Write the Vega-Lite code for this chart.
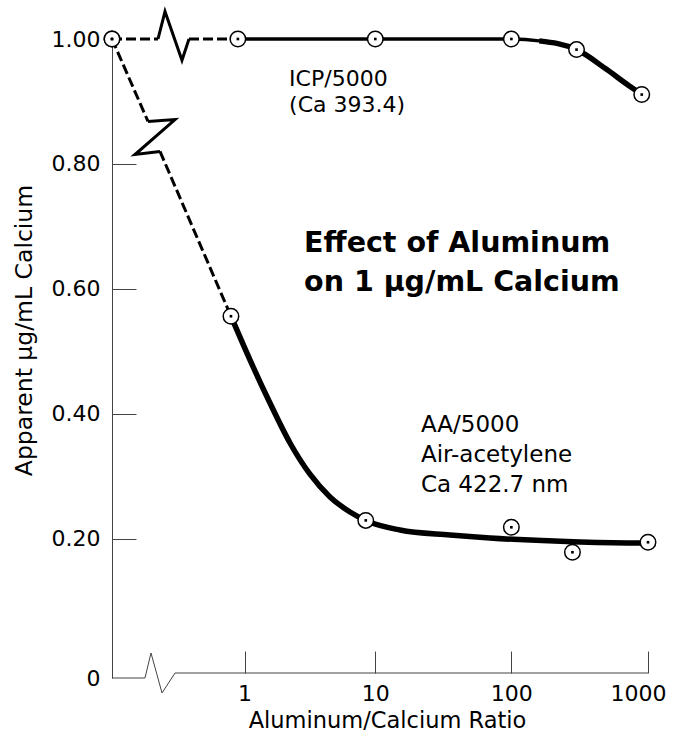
{
  "$schema": "https://vega.github.io/schema/vega-lite/v6.json",
  "width": 536,
  "height": 639,
  "autosize": {"type": "none"},
  "padding": {"left": 112, "top": 39, "right": 25, "bottom": 61},
  "background": "white",
  "config": {"view": {"stroke": null}, "font": "DejaVu Sans", "axis": {"grid": false}},
  "datasets": {
    "points": [
      {"series": "ICP", "ratio": 0, "value": 1.0},
      {"series": "ICP", "ratio": 0.88, "value": 1.0},
      {"series": "ICP", "ratio": 10, "value": 1.0},
      {"series": "ICP", "ratio": 100, "value": 1.0},
      {"series": "ICP", "ratio": 300, "value": 0.983},
      {"series": "ICP", "ratio": 900, "value": 0.911},
      {"series": "AA", "ratio": 0, "value": 1.0},
      {"series": "AA", "ratio": 0.77, "value": 0.556},
      {"series": "AA", "ratio": 8.5, "value": 0.229},
      {"series": "AA", "ratio": 100, "value": 0.218},
      {"series": "AA", "ratio": 280, "value": 0.178},
      {"series": "AA", "ratio": 1000, "value": 0.194}
    ],
    "fits": [
      {"series": "ICP", "ratio": 0.88, "value": 1.0},
      {"series": "ICP", "ratio": 10, "value": 1.0},
      {"series": "ICP", "ratio": 100, "value": 1.0},
      {"series": "ICP", "ratio": 160, "value": 0.997},
      {"series": "ICP", "ratio": 300, "value": 0.983},
      {"series": "ICP", "ratio": 500, "value": 0.951},
      {"series": "ICP", "ratio": 740, "value": 0.924},
      {"series": "ICP", "ratio": 900, "value": 0.912},
      {"series": "AA", "ratio": 0.77, "value": 0.556},
      {"series": "AA", "ratio": 1.106, "value": 0.486},
      {"series": "AA", "ratio": 1.597, "value": 0.417},
      {"series": "AA", "ratio": 2.286, "value": 0.353},
      {"series": "AA", "ratio": 3.248, "value": 0.303},
      {"series": "AA", "ratio": 4.6, "value": 0.2665},
      {"series": "AA", "ratio": 6.49, "value": 0.2425},
      {"series": "AA", "ratio": 8.68, "value": 0.228},
      {"series": "AA", "ratio": 15.2, "value": 0.2137},
      {"series": "AA", "ratio": 35.5, "value": 0.2057},
      {"series": "AA", "ratio": 69.7, "value": 0.2008},
      {"series": "AA", "ratio": 318, "value": 0.1944},
      {"series": "AA", "ratio": 874, "value": 0.1928},
      {"series": "AA", "ratio": 1000, "value": 0.193}
    ],
    "leads": [
      {"seg": "ICP-a", "ratio": 0, "value": 1.0},
      {"seg": "ICP-a", "ratio": 0.1404, "value": 1.0},
      {"seg": "ICP-b", "ratio": 0.319, "value": 1.0},
      {"seg": "ICP-b", "ratio": 0.88, "value": 1.0},
      {"seg": "AA-a", "ratio": 0, "value": 1.0},
      {"seg": "AA-a", "ratio": 0.1, "value": 0.868},
      {"seg": "AA-b", "ratio": 0.1493, "value": 0.82},
      {"seg": "AA-b", "ratio": 0.77, "value": 0.556}
    ],
    "breaks": [
      {"seg": "ICP", "k": 1, "ratio": 0.1404, "value": 1.0},
      {"seg": "ICP", "k": 2, "ratio": 0.173, "value": 1.044},
      {"seg": "ICP", "k": 3, "ratio": 0.27, "value": 0.966},
      {"seg": "ICP", "k": 4, "ratio": 0.319, "value": 1.0},
      {"seg": "AA", "k": 1, "ratio": 0.1, "value": 0.868},
      {"seg": "AA", "k": 2, "ratio": 0.2268, "value": 0.871},
      {"seg": "AA", "k": 3, "ratio": 0.0568, "value": 0.815},
      {"seg": "AA", "k": 4, "ratio": 0.1493, "value": 0.82}
    ],
    "xaxisline": [
      {"k": 1, "ratio": 0, "value": -0.0234},
      {"k": 2, "ratio": 0.0892, "value": -0.0234},
      {"k": 3, "ratio": 0.1115, "value": 0.0167},
      {"k": 4, "ratio": 0.1586, "value": -0.0474},
      {"k": 5, "ratio": 0.2268, "value": -0.0154},
      {"k": 6, "ratio": 1000, "value": -0.0154}
    ]
  },
  "layer": [
    {
      "encoding": {
        "x": {
          "field": "ratio",
          "type": "quantitative",
          "scale": {"type": "symlog", "constant": 0.12, "domain": [0, 1000], "nice": false, "zero": false},
          "axis": {
            "values": [1, 10, 100, 1000],
            "format": "d",
            "offset": -5,
            "domain": false,
            "tickSize": -22,
            "tickColor": "#444",
            "labelPadding": 32,
            "labelFontSize": 22,
            "labelColor": "black",
            "labelFlush": false,
            "labelOverlap": false,
            "labelOffset": {"condition": {"test": "datum.value > 500", "value": -10}, "value": 0},
            "title": "Aluminum/Calcium Ratio",
            "titleFontSize": 22.5,
            "titleFontWeight": "normal",
            "titleColor": "black",
            "titleBaseline": "alphabetic",
            "titleAlign": "center",
            "titleX": 275,
            "titleY": 54
          }
        },
        "y": {
          "field": "value",
          "type": "quantitative",
          "scale": {"domain": [-0.0234, 1], "nice": false, "zero": false},
          "axis": {
            "values": [-0.0234, 0.2, 0.4, 0.6, 0.8, 1.0],
            "labelExpr": "datum.value < 0 ? '0' : format(datum.value, '.2f')",
            "tickSize": -24,
            "labelPadding": 36,
            "tickColor": "#444",
            "tickOpacity": {"condition": {"test": "datum.value < 0.1 || datum.value > 0.9", "value": 0}, "value": 1},
            "domainColor": "#444",
            "labelFontSize": 22,
            "labelColor": "black",
            "labelOverlap": false,
            "labelFlush": false,
            "title": "Apparent µg/mL Calcium",
            "titleFontSize": 23.5,
            "titleFontWeight": "normal",
            "titleColor": "black",
            "titleAngle": -90,
            "titleAlign": "center",
            "titleBaseline": "middle",
            "titleX": -88,
            "titleY": 291
          }
        }
      },
      "layer": [
        {
          "data": {"name": "xaxisline"},
          "mark": {"type": "line", "color": "#444", "strokeWidth": 1},
          "encoding": {"order": {"field": "k", "type": "quantitative"}}
        },
        {
          "data": {"name": "leads"},
          "mark": {"type": "line", "color": "black", "strokeWidth": 3, "strokeDash": [10, 4]},
          "encoding": {"detail": {"field": "seg"}}
        },
        {
          "data": {"name": "breaks"},
          "mark": {"type": "line", "color": "black", "strokeWidth": 3, "strokeJoin": "miter"},
          "encoding": {"detail": {"field": "seg"}, "order": {"field": "k", "type": "quantitative"}}
        },
        {
          "data": {"name": "fits"},
          "transform": [{"filter": "datum.series == 'ICP'"}],
          "mark": {"type": "line", "color": "black", "strokeWidth": 3.5, "interpolate": "monotone"}
        },
        {
          "data": {"name": "fits"},
          "transform": [{"filter": "datum.series == 'ICP' && datum.ratio >= 160"}],
          "mark": {"type": "line", "color": "black", "strokeWidth": 5.5, "interpolate": "monotone"}
        },
        {
          "data": {"name": "fits"},
          "transform": [{"filter": "datum.series == 'AA'"}],
          "mark": {"type": "line", "color": "black", "strokeWidth": 5.5, "interpolate": "monotone"}
        },
        {
          "data": {"name": "points"},
          "mark": {"type": "point", "shape": "circle", "size": 240, "fill": "white", "stroke": "black", "strokeWidth": 1.5, "opacity": 1, "filled": false}
        },
        {
          "data": {"name": "points"},
          "mark": {"type": "point", "shape": "square", "size": 7, "filled": true, "color": "black", "opacity": 1}
        }
      ]
    },
    {
      "data": {"values": [{"label": "ICP"}]},
      "mark": {"type": "text", "align": "left", "baseline": "alphabetic", "fontSize": 22, "lineHeight": 26, "color": "black", "text": ["ICP/5000", "(Ca 393.4)"]},
      "encoding": {
        "x": {"datum": 2.25, "type": "quantitative"},
        "y": {"datum": 0.9247, "type": "quantitative"}
      }
    },
    {
      "data": {"values": [{"label": "title"}]},
      "mark": {"type": "text", "align": "left", "baseline": "alphabetic", "fontSize": 28.5, "fontWeight": "bold", "lineHeight": 39, "color": "black", "text": ["Effect of Aluminum", "on 1 µg/mL Calcium"]},
      "encoding": {
        "x": {"datum": 2.93, "type": "quantitative"},
        "y": {"datum": 0.6589, "type": "quantitative"}
      }
    },
    {
      "data": {"values": [{"label": "AA"}]},
      "mark": {"type": "text", "align": "left", "baseline": "alphabetic", "fontSize": 23, "lineHeight": 30, "color": "black", "text": ["AA/5000", "Air-acetylene", "Ca 422.7 nm"]},
      "encoding": {
        "x": {"datum": 21.7, "type": "quantitative"},
        "y": {"datum": 0.3706, "type": "quantitative"}
      }
    }
  ]
}
